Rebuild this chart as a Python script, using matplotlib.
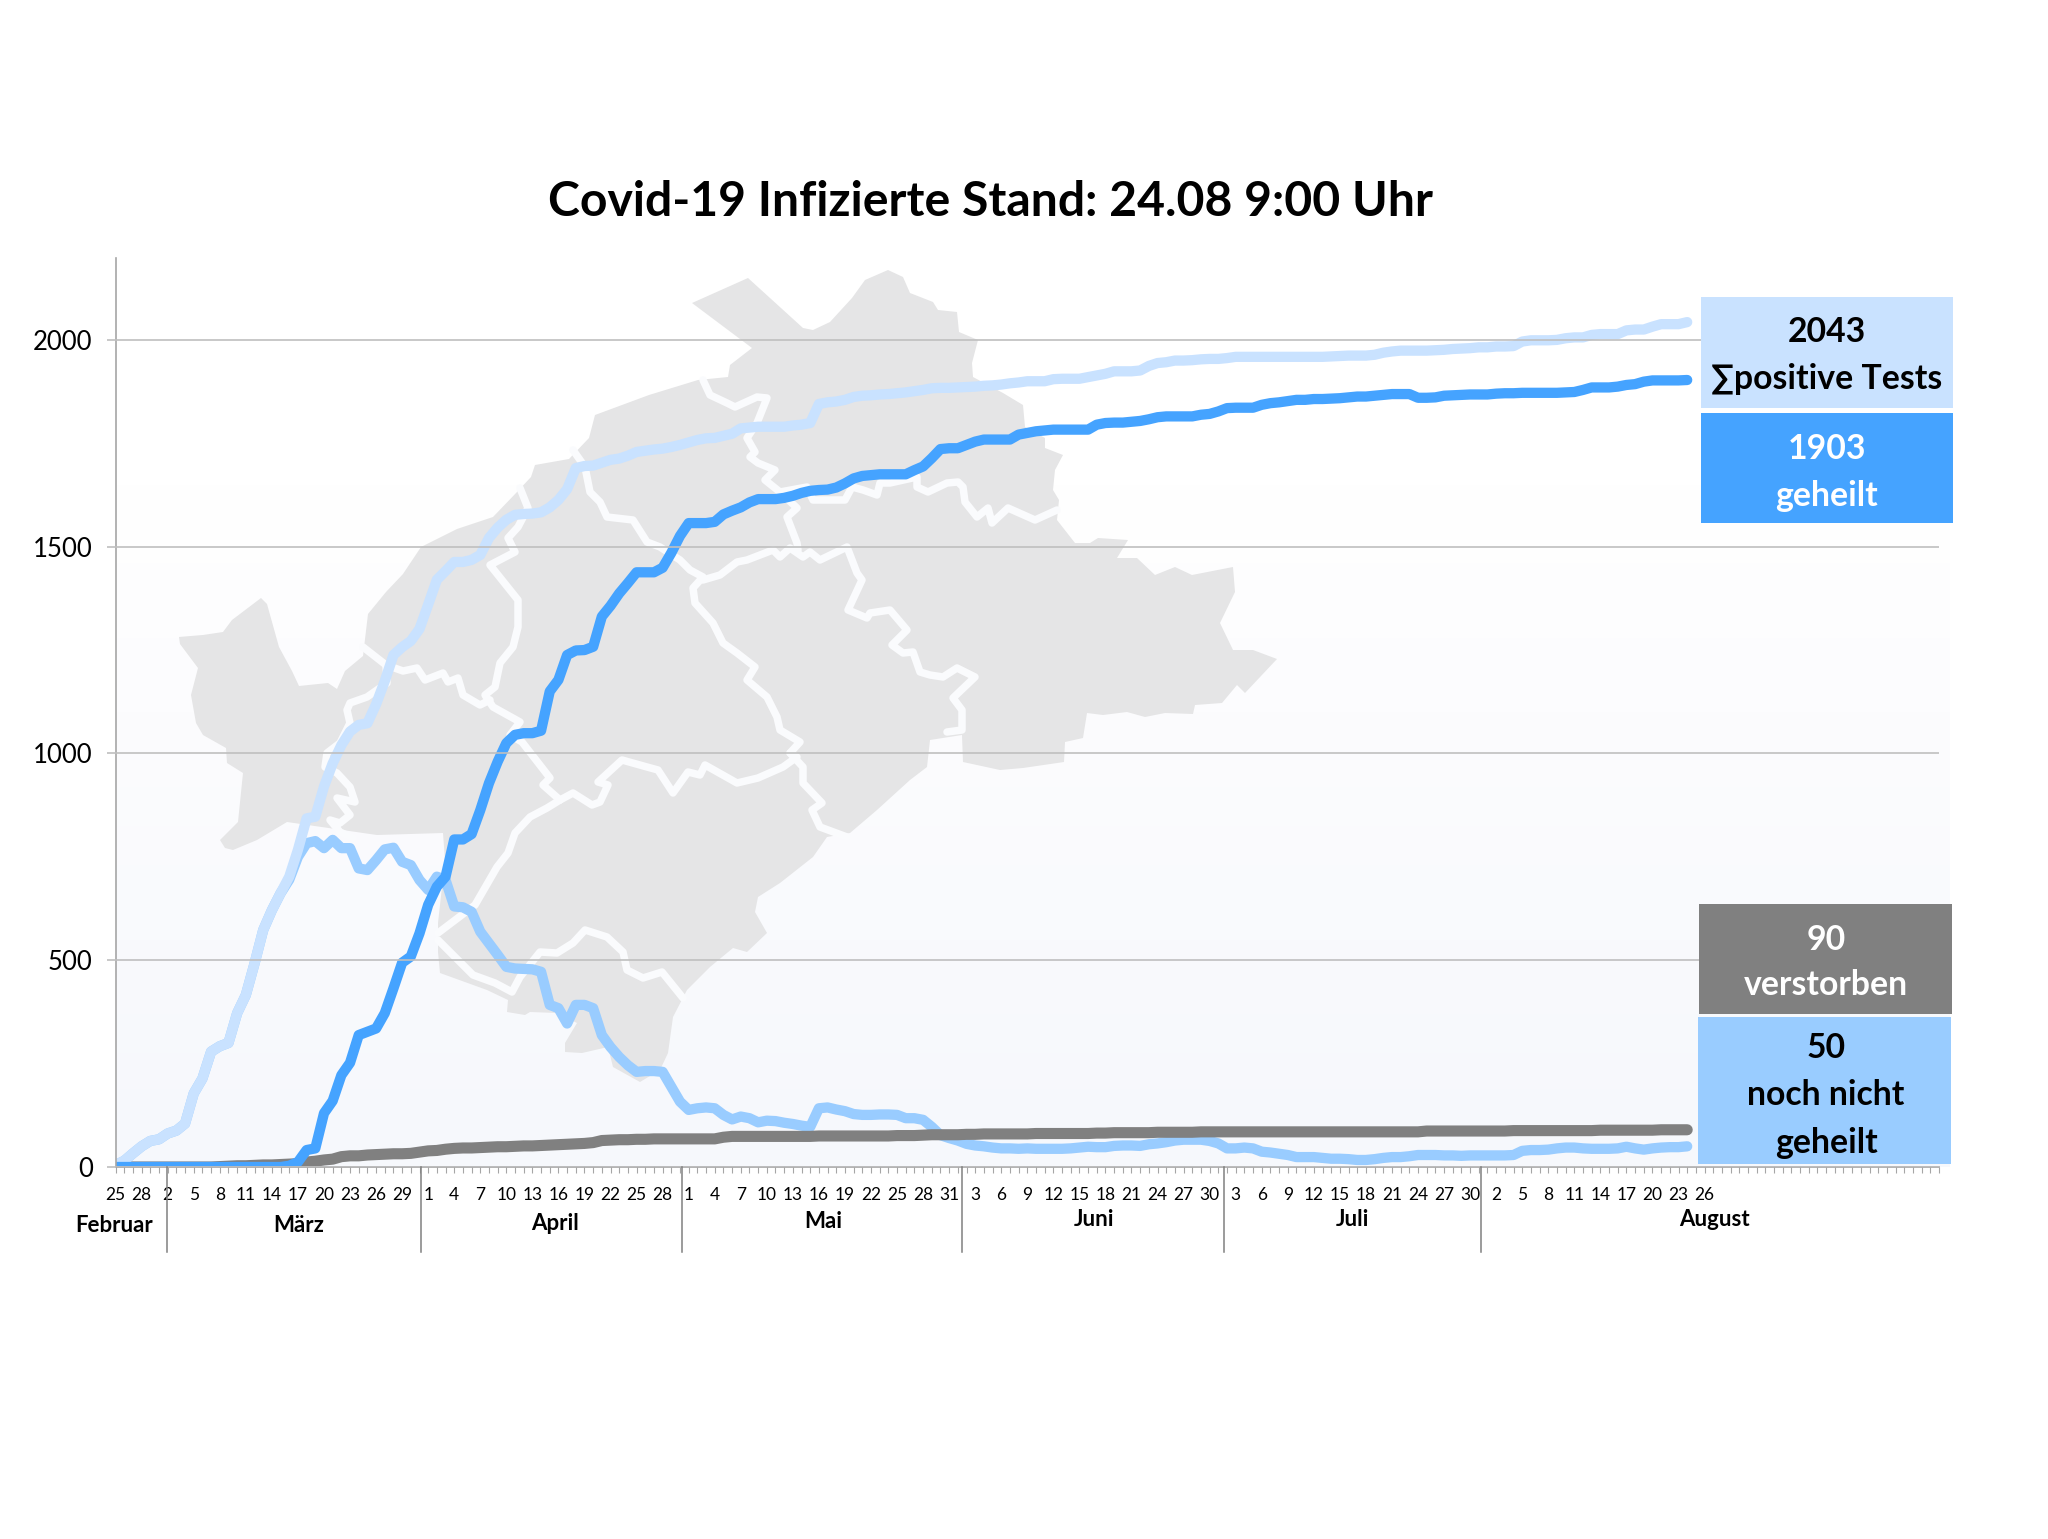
import numpy as np
import matplotlib
matplotlib.use("Agg")
import matplotlib.pyplot as plt
from matplotlib.patches import Polygon, Rectangle
from matplotlib.transforms import Affine2D, blended_transform_factory
from matplotlib.colors import LinearSegmentedColormap

plt.rcParams['font.family'] = ['Lato', 'DejaVu Sans']

# daily values, day 0 = 25 Feb, ten values per row
positive = [5, 15, 33, 50, 63, 67, 81, 88, 105, 178,
            214, 279, 292, 300, 372, 416, 492, 573, 621, 662,
            702, 767, 843, 847, 920, 976, 1020, 1053, 1069, 1073,
            1119, 1175, 1238, 1257, 1272, 1301, 1360, 1420, 1441, 1463,
            1463, 1468, 1480, 1521, 1546, 1565, 1577, 1579, 1580, 1583,
            1595, 1613, 1639, 1690, 1695, 1696, 1703, 1710, 1713, 1720,
            1729, 1732, 1735, 1737, 1741, 1746, 1752, 1758, 1762, 1763,
            1768, 1773, 1786, 1788, 1790, 1790, 1790, 1790, 1793, 1795,
            1799, 1845, 1849, 1851, 1855, 1862, 1865, 1866, 1868, 1869,
            1871, 1873, 1876, 1879, 1883, 1884, 1884, 1885, 1886, 1887,
            1889, 1890, 1892, 1895, 1897, 1900, 1900, 1900, 1905, 1906,
            1906, 1906, 1910, 1914, 1918, 1924, 1924, 1924, 1926, 1937,
            1944, 1946, 1950, 1950, 1951, 1953, 1954, 1954, 1956, 1959,
            1959, 1959, 1959, 1959, 1959, 1959, 1959, 1959, 1959, 1959,
            1960, 1961, 1962, 1962, 1962, 1964, 1969, 1972, 1974, 1974,
            1974, 1974, 1975, 1976, 1978, 1979, 1980, 1982, 1982, 1984,
            1984, 1985, 1996, 1999, 1999, 1999, 2000, 2004, 2006, 2006,
            2012, 2014, 2014, 2014, 2023, 2025, 2025, 2032, 2038, 2038,
            2038, 2043]

healed = [0, 0, 0, 0, 0, 0, 0, 0, 0, 0,
          0, 0, 0, 0, 0, 0, 0, 0, 0, 0,
          3, 12, 41, 45, 130, 160, 222, 252, 319, 327,
          335, 372, 432, 494, 509, 565, 634, 678, 702, 792,
          792, 805, 863, 928, 980, 1025, 1045, 1049, 1049, 1055,
          1150, 1178, 1238, 1249, 1250, 1258, 1331, 1357, 1387, 1412,
          1438, 1438, 1438, 1449, 1485, 1526, 1557, 1557, 1557, 1560,
          1578, 1587, 1595, 1607, 1615, 1615, 1615, 1618, 1623, 1630,
          1635, 1637, 1638, 1643, 1653, 1665, 1671, 1673, 1675, 1675,
          1675, 1675, 1685, 1694, 1714, 1736, 1738, 1738, 1746, 1754,
          1759, 1759, 1759, 1759, 1771, 1775, 1779, 1781, 1783, 1783,
          1783, 1783, 1783, 1795, 1799, 1800, 1800, 1802, 1804, 1808,
          1813, 1815, 1815, 1815, 1815, 1819, 1821, 1827, 1835, 1836,
          1836, 1836, 1843, 1847, 1849, 1852, 1855, 1855, 1857, 1857,
          1858, 1859, 1861, 1863, 1863, 1865, 1867, 1869, 1869, 1869,
          1860, 1860, 1861, 1865, 1866, 1867, 1868, 1868, 1868, 1870,
          1871, 1871, 1872, 1872, 1872, 1872, 1872, 1873, 1874, 1879,
          1885, 1885, 1885, 1887, 1891, 1893, 1899, 1902, 1902, 1902,
          1902, 1903]

active = [5, 15, 33, 50, 63, 67, 81, 88, 105, 178,
          214, 279, 292, 300, 372, 416, 492, 573, 621, 662,
          695, 750, 783, 788, 771, 791, 771, 771, 722, 718,
          742, 768, 772, 738, 730, 694, 670, 702, 694, 630,
          628, 617, 569, 541, 513, 484, 480, 479, 478, 472,
          392, 384, 347, 392, 392, 384, 319, 290, 266, 246,
          230, 232, 232, 230, 194, 158, 138, 142, 144, 142,
          126, 115, 122, 118, 108, 112, 111, 107, 104, 100,
          97, 142, 144, 139, 135, 128, 126, 126, 127, 127,
          126, 118, 118, 114, 97, 77, 70, 64, 56, 52,
          50, 47, 45, 45, 44, 45, 44, 44, 44, 44,
          45, 47, 49, 48, 48, 51, 52, 52, 51, 55,
          57, 60, 64, 66, 66, 66, 63, 57, 45, 45,
          47, 45, 37, 35, 32, 29, 24, 24, 24, 22,
          20, 20, 19, 17, 17, 19, 22, 24, 24, 26,
          29, 29, 29, 28, 28, 27, 28, 28, 28, 28,
          28, 29, 39, 41, 41, 42, 45, 47, 47, 45,
          44, 44, 44, 45, 49, 45, 42, 45, 47, 48,
          48, 50]

deaths = [0, 0, 0, 0, 0, 0, 0, 0, 0, 0,
          0, 0, 1, 2, 3, 3, 4, 5, 5, 6,
          7, 8, 12, 14, 17, 19, 25, 27, 27, 29,
          30, 31, 32, 32, 33, 36, 39, 40, 43, 45,
          46, 46, 47, 48, 49, 49, 50, 51, 51, 52,
          53, 54, 55, 56, 57, 59, 64, 65, 66, 66,
          67, 67, 68, 68, 68, 68, 68, 68, 68, 68,
          72, 74, 74, 74, 74, 74, 74, 74, 74, 74,
          74, 75, 75, 75, 75, 75, 75, 75, 75, 75,
          76, 76, 76, 77, 78, 78, 78, 78, 79, 79,
          80, 80, 80, 80, 80, 80, 81, 81, 81, 81,
          81, 81, 81, 82, 82, 83, 83, 83, 83, 83,
          84, 84, 84, 84, 84, 85, 85, 85, 85, 85,
          85, 85, 85, 85, 85, 85, 85, 85, 85, 85,
          85, 85, 85, 85, 85, 85, 85, 85, 85, 85,
          85, 87, 87, 87, 87, 87, 87, 87, 87, 87,
          87, 88, 88, 88, 88, 88, 88, 88, 88, 88,
          88, 89, 89, 89, 89, 89, 89, 89, 90, 90,
          90, 90]

day_labels = ['25', '28',
              '2', '5', '8', '11', '14', '17', '20', '23', '26', '29',
              '1', '4', '7', '10', '13', '16', '19', '22', '25', '28',
              '1', '4', '7', '10', '13', '16', '19', '22', '25', '28', '31',
              '3', '6', '9', '12', '15', '18', '21', '24', '27', '30',
              '3', '6', '9', '12', '15', '18', '21', '24', '27', '30',
              '2', '5', '8', '11', '14', '17', '20', '23', '26']

months = ['Februar', 'März', 'April', 'Mai', 'Juni', 'Juli', 'August']
month_centers = [-0.2, 21.1, 50.6, 81.5, 112.7, 142.4, 184.1]
month_label_y = [1225, 1225, 1223, 1222, 1220, 1220, 1220]
month_edges = [5.92, 35.2, 65.2, 97.45, 127.6, 157.3]

# map shape in the background, traced in image pixels
map_outline = [(179, 637), (203, 635), (223, 632), (232, 620), (261, 598), (267, 604), (279, 647),
               (292, 671), (299, 686), (328, 683), (337, 689), (345, 671), (363, 656), (368, 614),
               (386, 592), (403, 574), (421, 547), (457, 529), (493, 517), (517, 492), (531, 477),
               (535, 465), (569, 459), (589, 438), (595, 415), (649, 395), (698, 380), (728, 377),
               (730, 365), (752, 348), (692, 303), (748, 278), (803, 328), (813, 330), (830, 322),
               (852, 298), (865, 280), (888, 270), (903, 277), (910, 293), (933, 302), (938, 310),
               (957, 312), (959, 332), (978, 340), (972, 363), (973, 377), (1003, 393), (1023, 405),
               (1025, 427), (1045, 438), (1045, 448), (1063, 455), (1055, 470), (1053, 490), (1059, 500),
               (1057, 520), (1075, 543), (1090, 543), (1098, 538), (1128, 540), (1117, 558), (1137, 558),
               (1155, 575), (1175, 567), (1192, 575), (1233, 567), (1235, 592), (1220, 623), (1233, 650),
               (1253, 650), (1277, 659), (1245, 693), (1237, 685), (1222, 703), (1195, 705), (1193, 714),
               (1165, 713), (1145, 717), (1127, 712), (1103, 715), (1087, 713), (1083, 738), (1065, 742),
               (1064, 762), (1023, 768), (1000, 770), (963, 762), (962, 735), (930, 740), (927, 767),
               (910, 780), (877, 810), (850, 833), (827, 837), (813, 857), (780, 883), (758, 897),
               (755, 912), (767, 933), (747, 952), (733, 948), (710, 967), (687, 990), (673, 1017),
               (668, 1053), (660, 1070), (640, 1082), (613, 1067), (608, 1047), (582, 1053), (565, 1052),
               (565, 1043), (577, 1023), (557, 1013), (530, 1012), (525, 1015), (507, 1012), (508, 1000),
               (487, 990), (440, 973), (438, 952), (438, 923), (445, 860), (443, 833), (377, 835),
               (287, 822), (257, 840), (233, 850), (225, 848), (220, 840), (238, 822), (243, 773),
               (227, 763), (226, 748), (203, 735), (196, 723), (191, 695), (198, 668), (180, 644)]

map_borders = [
    [(703, 380), (710, 395), (727, 403), (735, 407), (757, 397), (767, 398), (757, 423), (747, 438),
     (755, 452), (750, 457), (758, 463), (775, 470), (765, 480), (780, 492), (797, 508), (787, 517),
     (797, 543), (798, 550)],
    [(780, 492), (807, 487), (813, 500), (845, 500), (852, 487), (863, 490), (877, 495), (880, 483),
     (890, 483), (917, 477), (917, 487), (928, 492), (947, 483), (958, 482), (963, 487), (965, 502),
     (977, 517), (988, 508), (992, 523), (1008, 508), (1035, 520), (1057, 510)],
    [(573, 450), (585, 467), (590, 492), (600, 502), (607, 517), (633, 520), (647, 542), (660, 547),
     (680, 560), (690, 570), (703, 577), (693, 588), (695, 603), (713, 623), (723, 643), (737, 653),
     (755, 667), (747, 680), (767, 697), (777, 717), (780, 730), (800, 742), (790, 753), (803, 767),
     (803, 783), (822, 803), (812, 810), (820, 827), (847, 837)],
    [(703, 580), (720, 575), (737, 562), (747, 560), (773, 550), (780, 557), (790, 548), (803, 557),
     (810, 552), (820, 560), (847, 547), (857, 573), (862, 580), (848, 610), (867, 618), (870, 613),
     (890, 610), (907, 630), (892, 645), (903, 653), (913, 652), (920, 672), (930, 675), (943, 677),
     (957, 668), (975, 677), (953, 698), (962, 710), (962, 730), (947, 732)],
    [(520, 488), (528, 508), (518, 527), (508, 538), (515, 552), (490, 565), (518, 600), (518, 627),
     (513, 647), (500, 663), (495, 687), (485, 695), (493, 707), (520, 722), (510, 735), (522, 742),
     (550, 778), (543, 785), (560, 800)],
    [(363, 647), (386, 665), (403, 671), (417, 668), (425, 680), (443, 673), (448, 682), (458, 678),
     (463, 695), (480, 705), (490, 700)],
    [(386, 665), (387, 683), (367, 697), (350, 703), (347, 710), (350, 723), (340, 743), (327, 753),
     (325, 767), (337, 773), (350, 787), (355, 802), (337, 798), (350, 815), (340, 823), (330, 820),
     (340, 832), (353, 838)],
    [(560, 800), (547, 808), (530, 817), (515, 833), (508, 853), (497, 867), (475, 905), (438, 933)],
    [(438, 940), (473, 975), (495, 983), (512, 992), (520, 977), (540, 952), (557, 953), (573, 943),
     (585, 930), (607, 937), (623, 952), (627, 970), (643, 978), (662, 972), (683, 998)],
    [(560, 800), (573, 793), (592, 805), (600, 802), (608, 785), (598, 782), (622, 760), (647, 767),
     (658, 770), (673, 793), (688, 772), (700, 775), (705, 765), (737, 783), (758, 778), (783, 767),
     (797, 757), (790, 753)],
]

W, H = 2048, 1539
fig = plt.figure(figsize=(W / 100, H / 100), dpi=100)
px = Affine2D().scale(1 / W, -1 / H).translate(0, 1) + fig.transFigure

ax_l, ax_r, ax_t, ax_b = 115.6, 1939, 258, 1167
ax = fig.add_axes([ax_l / W, 1 - ax_b / H, (ax_r - ax_l) / W, (ax_b - ax_t) / H])

# soft background, white on top, pale blue at the bottom
bg = LinearSegmentedColormap.from_list('bg', ['#ffffff', '#ffffff', '#fcfcfe', '#f9fafd', '#f6f8fc'])
ax.imshow(np.linspace(0, 1, 256).reshape(-1, 1), cmap=bg, aspect='auto', extent=(0, 1.0055, 0, 1),
          transform=ax.transAxes, zorder=0, clip_on=False)
ax.set_xlim(0, (ax_r - ax_l) / 8.685)
ax.set_ylim(0, 2198)

ax.add_patch(Polygon(map_outline, closed=True, fc='#e5e5e6', ec='none', transform=px, zorder=1, clip_on=False))
for line in map_borders:
    xs, ys = zip(*line)
    ax.plot(xs, ys, color='#fafbfd', lw=5.4, transform=px, zorder=1.1, solid_joinstyle='round',
            solid_capstyle='round', clip_on=False)

ax.grid(axis='y', color='#bfbfbf', lw=1.2, zorder=1.5)
ax.set_axisbelow(False)
ax.grid(axis='x', visible=False)

days = np.arange(len(positive))
ax.plot(days, active, color='#99ccff', lw=7.4, zorder=2, solid_capstyle='round', solid_joinstyle='round')
ax.plot(days, deaths, color='#808080', lw=8, zorder=2.1, solid_capstyle='round', solid_joinstyle='round')
ax.plot(days, positive, color='#c9e2ff', lw=7.4, zorder=2.2, solid_capstyle='round', solid_joinstyle='round')
ax.plot(days, healed, color='#45a3ff', lw=7.4, zorder=2.3, solid_capstyle='round', solid_joinstyle='round')

for s in ['top', 'right']:
    ax.spines[s].set_visible(False)
for s in ['left', 'bottom']:
    ax.spines[s].set_color('#a6a6a6')
    ax.spines[s].set_linewidth(1.2)

ax.set_yticks([0, 500, 1000, 1500, 2000])
ax.tick_params(axis='y', length=6.5, width=1.2, color='#bfbfbf', labelsize=18.5, pad=10)
ax.set_xticks(np.arange(len(day_labels)) * 3)
ax.set_xticklabels(day_labels)
ax.set_xticks(np.arange(0, 211), minor=True)
ax.tick_params(axis='x', which='both', length=4.5, width=0.8, color='#a6a6a6')
ax.tick_params(axis='x', which='major', labelsize=12.5, pad=10)

# month separators and names below the axis
btr = blended_transform_factory(ax.transData, px)
for edge in month_edges:
    ax.plot([edge, edge], [ax_b, 1252], color='#808080', lw=1.1, transform=btr, clip_on=False, zorder=3)
for name, c, y in zip(months, month_centers, month_label_y):
    ax.text(c, y, name, transform=btr, ha='center', va='center', fontsize=16, fontweight='bold')

fig.text(991, 202, 'Covid-19 Infizierte Stand: 24.08 9:00 Uhr', transform=px, ha='center', va='center',
         fontsize=34.7, fontweight='bold')

# value boxes on the right
boxes = [(1701, 297, 1953, 408, '#c9e2ff'), (1701, 413, 1953, 523, '#45a3ff'),
         (1699, 904, 1952, 1014, '#808080'), (1698, 1017, 1951, 1164, '#99ccff')]
for x0, y0, x1, y1, col in boxes:
    fig.add_artist(Rectangle((x0, y0), x1 - x0, y1 - y0, fc=col, ec='none', transform=px, zorder=4))

box_text = [(1827, 332, '2043', 'black'), (1827, 379, '∑positive Tests', 'black'),
            (1827, 449, '1903', 'white'), (1827, 496, 'geheilt', 'white'),
            (1826, 940, '90', 'white'), (1826, 985, 'verstorben', 'white'),
            (1826, 1048, '50', 'black'), (1826, 1095, 'noch nicht', 'black'),
            (1826, 1143, 'geheilt', 'black')]
for x, y, t, col in box_text:
    fig.text(x, y, t, transform=px, ha='center', va='center', fontsize=24.3, fontweight='bold', color=col, zorder=5)

fig.savefig('out.png', dpi=100, facecolor='white')
